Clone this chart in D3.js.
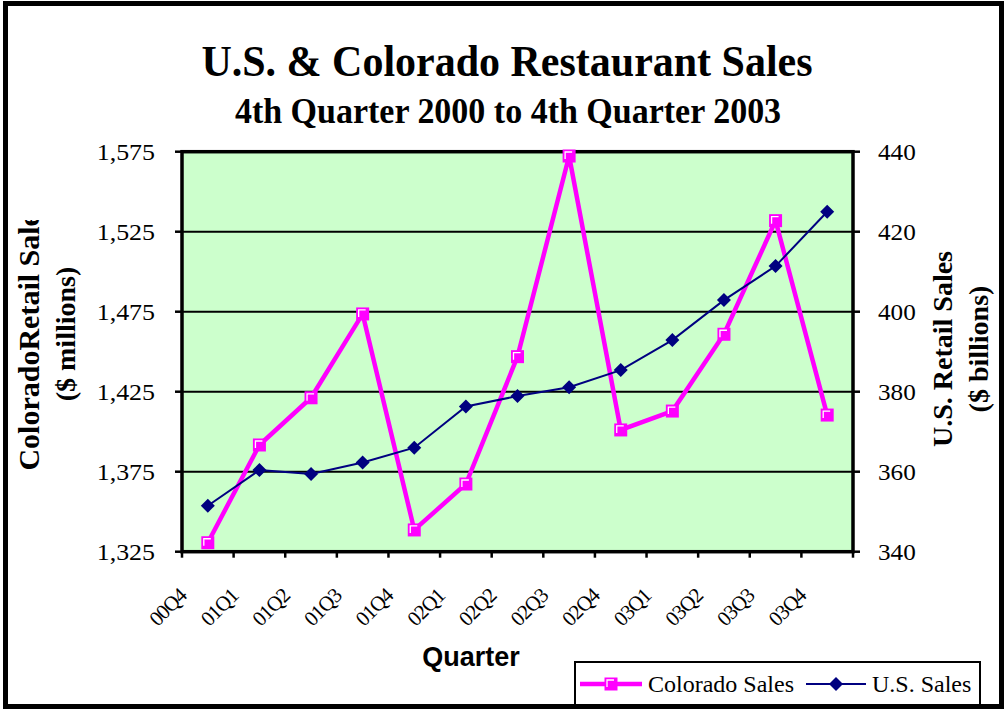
<!DOCTYPE html>
<html>
<head>
<meta charset="utf-8">
<script src="https://cdn.jsdelivr.net/npm/d3@7"></script>
<style>
  html, body { margin: 0; padding: 0; background: #fff; }
  svg { display: block; }
</style>
</head>
<body>
<svg id="chart" width="1004" height="709"></svg>
<script>
const quarters = ["00Q4","01Q1","01Q2","01Q3","01Q4","02Q1","02Q2","02Q3","02Q4","03Q1","03Q2","03Q3","03Q4"];
const coloradoSales = [1330.6, 1391.7, 1421.2, 1473.6, 1338.6, 1367.3, 1446.9, 1572.3, 1401.1, 1412.9, 1460.9, 1531.9, 1410.4];
const usSales = [351.5, 360.4, 359.4, 362.3, 366.0, 376.3, 378.9, 381.1, 385.4, 392.9, 402.9, 411.4, 425.0];
const leftTicks = [1325, 1375, 1425, 1475, 1525, 1575];
const rightTicks = [340, 360, 380, 400, 420, 440];

const serif = "'Liberation Serif', 'Times New Roman', serif";
const sans = "'Liberation Sans', Arial, sans-serif";
const svg = d3.select("#chart");

const plot = {left: 182, right: 853, top: 151.7, bottom: 551.7};
const x = d3.scaleBand().domain(quarters).range([plot.left, plot.right]);
const yL = d3.scaleLinear().domain([1325, 1575]).range([plot.bottom, plot.top]);
const yR = d3.scaleLinear().domain([340, 440]).range([plot.bottom, plot.top]);
const fmt = d3.format(",");

// outer frame
svg.append("rect").attr("x", 5.5).attr("y", 3.5).attr("width", 996).attr("height", 703)
  .attr("fill", "#fff").attr("stroke", "#000").attr("stroke-width", 5);

// titles
svg.append("text").attr("transform", "translate(507,76) scale(1,1.06)").attr("text-anchor", "middle")
  .attr("font-family", serif).attr("font-weight", "bold").attr("font-size", 42)
  .text("U.S. & Colorado Restaurant Sales");
svg.append("text").attr("transform", "translate(508,123) scale(1,1.04)").attr("text-anchor", "middle")
  .attr("font-family", serif).attr("font-weight", "bold").attr("font-size", 34)
  .text("4th Quarter 2000 to 4th Quarter 2003");

// plot background
svg.append("rect").attr("x", plot.left).attr("y", plot.top)
  .attr("width", plot.right - plot.left).attr("height", plot.bottom - plot.top)
  .attr("fill", "#CCFFCC");

// gridlines
svg.append("g").selectAll("line").data(leftTicks.slice(1, -1)).join("line")
  .attr("x1", plot.left).attr("x2", plot.right)
  .attr("y1", d => yL(d)).attr("y2", d => yL(d))
  .attr("stroke", "#000").attr("stroke-width", 2);

// plot border
svg.append("rect").attr("x", plot.left).attr("y", plot.top)
  .attr("width", plot.right - plot.left).attr("height", plot.bottom - plot.top)
  .attr("fill", "none").attr("stroke", "#000").attr("stroke-width", 3.5);

// left axis ticks and labels
const gl = svg.append("g");
gl.selectAll("line").data(leftTicks).join("line")
  .attr("x1", plot.left - 7).attr("x2", plot.left)
  .attr("y1", d => yL(d)).attr("y2", d => yL(d))
  .attr("stroke", "#000").attr("stroke-width", 2.5);
gl.selectAll("text").data(leftTicks).join("text")
  .attr("transform", d => `translate(155,${yL(d)}) scale(1.08,1)`).attr("dy", "0.35em")
  .attr("text-anchor", "end").attr("font-family", serif).attr("font-size", 24)
  .text(d => fmt(d));

// right axis ticks and labels
const gr = svg.append("g");
gr.selectAll("line").data(rightTicks).join("line")
  .attr("x1", plot.right).attr("x2", plot.right + 7)
  .attr("y1", d => yR(d)).attr("y2", d => yR(d))
  .attr("stroke", "#000").attr("stroke-width", 2.5);
gr.selectAll("text").data(rightTicks).join("text")
  .attr("transform", d => `translate(878,${yR(d)}) scale(1.05,1)`).attr("dy", "0.35em")
  .attr("text-anchor", "start").attr("font-family", serif).attr("font-size", 24)
  .text(d => d);

// x axis ticks at band boundaries
const bounds = quarters.map(q => x(q)).concat([plot.right]);
svg.append("g").selectAll("line").data(bounds).join("line")
  .attr("x1", d => d).attr("x2", d => d)
  .attr("y1", plot.bottom).attr("y2", plot.bottom + 6)
  .attr("stroke", "#000").attr("stroke-width", 2.5);

// x tick labels (rotated)
svg.append("g").selectAll("text").data(quarters).join("text")
  .attr("transform", d => `translate(${x(d) + x.bandwidth() / 2 - 20},597) rotate(-45)`)
  .attr("text-anchor", "end").attr("font-family", serif).attr("font-size", 21)
  .attr("letter-spacing", -1)
  .text(d => d);

// x axis title
svg.append("text").attr("x", 471).attr("y", 666).attr("text-anchor", "middle")
  .attr("font-family", sans).attr("font-weight", "bold").attr("font-size", 27)
  .text("Quarter");

// left axis title (clipped at top)
svg.append("clipPath").attr("id", "lclip").append("rect")
  .attr("x", 0).attr("y", 220).attr("width", 120).attr("height", 400);
const lt = svg.append("g").attr("clip-path", "url(#lclip)");
lt.append("text").attr("transform", "translate(39,336) rotate(-90)")
  .attr("text-anchor", "middle").attr("font-family", serif).attr("font-weight", "bold").attr("font-size", 30)
  .text("ColoradoRetail Sales");
lt.append("text").attr("transform", "translate(75,334) rotate(-90)")
  .attr("text-anchor", "middle").attr("font-family", serif).attr("font-weight", "bold").attr("font-size", 28)
  .text("($ millions)");

// right axis title
svg.append("text").attr("transform", "translate(952,349) rotate(-90)")
  .attr("text-anchor", "middle").attr("font-family", serif).attr("font-weight", "bold").attr("font-size", 28)
  .text("U.S. Retail Sales");
svg.append("text").attr("transform", "translate(988,349) rotate(-90)")
  .attr("text-anchor", "middle").attr("font-family", serif).attr("font-weight", "bold").attr("font-size", 28)
  .text("($ billions)");

// lines
const cx = d => x(d) + x.bandwidth() / 2;
const lineCO = d3.line().x((d, i) => cx(quarters[i])).y(d => yL(d));
const lineUS = d3.line().x((d, i) => cx(quarters[i])).y(d => yR(d));

svg.append("path").datum(coloradoSales).attr("d", lineCO)
  .attr("fill", "none").attr("stroke", "#FF00FF").attr("stroke-width", 4.5).attr("stroke-linejoin", "miter");
svg.append("path").datum(usSales).attr("d", lineUS)
  .attr("fill", "none").attr("stroke", "#000080").attr("stroke-width", 2);

function squareMarker(g, px, py) {
  g.append("rect").attr("x", px - 6.5).attr("y", py - 6.5).attr("width", 13).attr("height", 13)
    .attr("fill", "#FF00FF");
  g.append("path").attr("d", `M${px - 4},${py + 3}V${py - 4}H${px + 3}`)
    .attr("fill", "none").attr("stroke", "#fff").attr("stroke-width", 1.3);
}
function diamond(g, px, py, r) {
  g.append("path").attr("d", `M${px},${py - r}L${px + r},${py}L${px},${py + r}L${px - r},${py}Z`)
    .attr("fill", "#000080");
}

const gus = svg.append("g");
usSales.forEach((v, i) => diamond(gus, cx(quarters[i]), yR(v), 7));
const gco = svg.append("g");
coloradoSales.forEach((v, i) => squareMarker(gco, cx(quarters[i]), yL(v)));

// legend
const leg = svg.append("g");
leg.append("rect").attr("x", 575).attr("y", 662).attr("width", 405).attr("height", 50)
  .attr("fill", "#fff").attr("stroke", "#000").attr("stroke-width", 2);
leg.append("line").attr("x1", 580).attr("x2", 642).attr("y1", 684).attr("y2", 684)
  .attr("stroke", "#FF00FF").attr("stroke-width", 4.5);
squareMarker(leg, 611, 684);
leg.append("text").attr("x", 648).attr("y", 692).attr("font-family", serif).attr("font-size", 24)
  .text("Colorado Sales");
leg.append("line").attr("x1", 806).attr("x2", 866).attr("y1", 684).attr("y2", 684)
  .attr("stroke", "#000080").attr("stroke-width", 2);
diamond(leg, 836, 684, 7);
leg.append("text").attr("x", 872).attr("y", 692).attr("font-family", serif).attr("font-size", 24)
  .text("U.S. Sales");

// redraw bottom frame edge over legend
svg.append("line").attr("x1", 3).attr("x2", 1004).attr("y1", 706.5).attr("y2", 706.5)
  .attr("stroke", "#000").attr("stroke-width", 5);
</script>
</body>
</html>
